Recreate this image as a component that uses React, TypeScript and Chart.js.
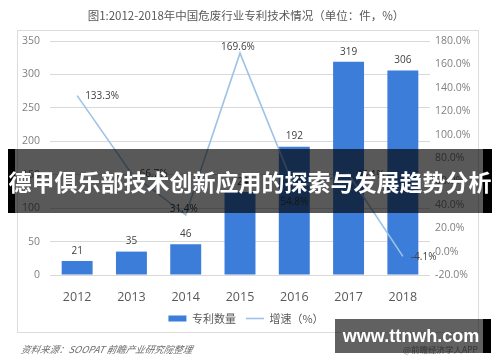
import React, { useEffect, useRef } from "react";
import { Chart, registerables } from "chart.js";

Chart.register(...registerables);

const years = ["2012", "2013", "2014", "2015", "2016", "2017", "2018"];
const patentCounts = [21, 35, 46, 124, 192, 319, 306];
const growthRates = [133.3, 66.7, 31.4, 169.6, 54.8, 66.1, -4.1];
const growthLabelPos = ["right", "right", "above", "above", "below", "right", "right"];
const leftAxis = { min: 0, max: 350, step: 50 };
const rightAxis = { min: -20, max: 180, step: 20 };

const titleText = "图1:2012-2018年中国危废行业专利技术情况（单位：件，%）";
const barLabel = "专利数量";
const lineLabel = "增速（%）";
const sourceText = "资料来源：SOOPAT 前瞻产业研究院整理";
const bannerText = "德甲俱乐部技术创新应用的探索与发展趋势分析";
const watermarkText = "www.ttnwh.com";
const appText = "@前瞻经济学人APP";

const BAR_COLOR = "#3b7dd8";
const LINE_COLOR = "#9dc3e6";
const FONT = '"Open Sans", "Noto Sans CJK SC", sans-serif';
const CJK = '"Noto Sans CJK SC", "Open Sans", sans-serif';

const framePlugin = {
  id: "frame",
  beforeDraw(chart: any) {
    const ctx = chart.ctx;
    ctx.save();
    ctx.fillStyle = "#ffffff";
    ctx.fillRect(0, 0, chart.width, chart.height);
    ctx.strokeStyle = "#dcdcdc";
    ctx.lineWidth = 1;
    ctx.strokeRect(17.5, 30.5, 461, 302);
    ctx.restore();
  },
};

const labelPlugin = {
  id: "valueLabels",
  afterDatasetsDraw(chart: any) {
    const ctx = chart.ctx;
    ctx.save();
    ctx.font = "10px " + FONT;
    ctx.fillStyle = "#404040";
    const barMeta = chart.getDatasetMeta(0);
    barMeta.data.forEach((el: any, i: number) => {
      ctx.textAlign = "center";
      ctx.textBaseline = "middle";
      ctx.fillText(String(patentCounts[i]), el.x, el.y - 10);
    });
    const lineMeta = chart.getDatasetMeta(1);
    lineMeta.data.forEach((el: any, i: number) => {
      const txt = growthRates[i].toFixed(1) + "%";
      const pos = growthLabelPos[i];
      ctx.textBaseline = "middle";
      if (pos === "right") {
        ctx.textAlign = "left";
        ctx.fillText(txt, el.x + 8, el.y + 1);
      } else if (pos === "above") {
        ctx.textAlign = "center";
        ctx.fillText(txt, el.x - 2, el.y - 6);
      } else {
        ctx.textAlign = "center";
        ctx.fillText(txt, el.x, el.y + 15);
      }
    });
    ctx.restore();
  },
};

export default function App() {
  const ref = useRef<HTMLCanvasElement>(null);

  useEffect(() => {
    document.body.style.margin = "0";
    const canvas = ref.current;
    if (!canvas) return;
    const chart = new Chart(canvas, {
      type: "bar",
      data: {
        labels: years,
        datasets: [
          {
            type: "bar",
            label: barLabel,
            data: patentCounts,
            backgroundColor: BAR_COLOR,
            yAxisID: "y",
            order: 2,
            barPercentage: 0.57,
            categoryPercentage: 1,
          },
          {
            type: "line",
            label: lineLabel,
            data: growthRates,
            borderColor: LINE_COLOR,
            backgroundColor: LINE_COLOR,
            borderWidth: 1.6,
            pointRadius: 0,
            tension: 0,
            yAxisID: "y1",
            order: 1,
          },
        ],
      } as any,
      options: {
        responsive: false,
        animation: false,
        devicePixelRatio: 1,
        layout: { padding: { top: 41, bottom: 28, left: 0, right: 8 } },
        plugins: {
          title: { display: false },
          tooltip: { enabled: false },
          legend: {
            display: true,
            position: "bottom",
            labels: {
              usePointStyle: true,
              pointStyleWidth: 18,
              boxHeight: 6,
              padding: 10,
              color: "#595959",
              font: { size: 11, family: CJK },
              generateLabels: () => [
                {
                  text: barLabel,
                  fillStyle: BAR_COLOR,
                  strokeStyle: BAR_COLOR,
                  lineWidth: 0,
                  pointStyle: "rect",
                  hidden: false,
                  datasetIndex: 0,
                  fontColor: "#595959",
                } as any,
                {
                  text: lineLabel,
                  fillStyle: LINE_COLOR,
                  strokeStyle: LINE_COLOR,
                  lineWidth: 1.6,
                  pointStyle: "line",
                  hidden: false,
                  datasetIndex: 1,
                  fontColor: "#595959",
                } as any,
              ],
            },
          },
        },
        scales: {
          x: {
            grid: { display: false },
            border: { display: false },
            ticks: { color: "#595959", font: { size: 12.5, family: FONT }, padding: 7 },
            afterFit: (s: any) => {
              s.height = 28;
            },
          },
          y: {
            position: "left",
            min: leftAxis.min,
            max: leftAxis.max,
            grid: { color: "#d9d9d9", drawTicks: false },
            border: { display: false },
            ticks: {
              stepSize: leftAxis.step,
              color: "#808080",
              font: { size: 10.5, family: FONT },
              padding: 10,
            },
            afterFit: (s: any) => {
              s.width = 50;
            },
          },
          y1: {
            position: "right",
            min: rightAxis.min,
            max: rightAxis.max,
            grid: { display: false, drawTicks: false },
            border: { display: false },
            ticks: {
              stepSize: rightAxis.step,
              color: "#808080",
              font: { size: 10.5, family: FONT },
              padding: 5,
              callback: (v: any) => Number(v).toFixed(1) + "%",
            },
            afterFit: (s: any) => {
              s.width = 62;
            },
          },
        },
      } as any,
      plugins: [framePlugin, labelPlugin],
    });
    return () => chart.destroy();
  }, []);

  return (
    <div style={{ position: "fixed", left: 0, top: 0, width: 500, height: 362, overflow: "hidden", background: "#fff" }}>
      <canvas ref={ref} width={500} height={362} style={{ position: "absolute", left: 0, top: 0, width: 500, height: 362 }} />
      <div
        style={{
          position: "absolute",
          left: 0,
          top: 7,
          width: 492,
          textAlign: "center",
          fontFamily: CJK,
          fontSize: 11.5,
          lineHeight: "16px",
          color: "#595959",
          whiteSpace: "nowrap",
        }}
      >
        {titleText}
      </div>
      <div
        style={{
          position: "absolute",
          left: 20,
          top: 343,
          fontFamily: CJK,
          fontSize: 9.5,
          fontStyle: "italic",
          lineHeight: "12px",
          color: "#6e6e6e",
          whiteSpace: "nowrap",
          transform: "skewX(-12deg)",
          transformOrigin: "left bottom",
        }}
      >
        {sourceText}
      </div>
      <div
        style={{
          position: "absolute",
          left: 403,
          top: 344,
          fontFamily: CJK,
          fontSize: 8.5,
          lineHeight: "11px",
          color: "#8a8a8a",
          whiteSpace: "nowrap",
        }}
      >
        {appText}
      </div>
      {/* banner */}
      <div style={{ position: "absolute", left: 8, top: 149, width: 7, height: 64, background: "#000" }} />
      <div style={{ position: "absolute", left: 15, top: 149, width: 468, height: 64, background: "rgba(0,0,0,0.65)" }} />
      <div style={{ position: "absolute", left: 483, top: 149, width: 9, height: 64, background: "#000" }} />
      <div
        style={{
          position: "absolute",
          left: 0,
          top: 149,
          width: 500,
          height: 64,
          lineHeight: "64px",
          textAlign: "center",
          color: "#ffffff",
          fontFamily: CJK,
          fontWeight: 700,
          fontSize: 23,
          whiteSpace: "nowrap",
        }}
      >
        {bannerText}
      </div>
      {/* watermark */}
      <div style={{ position: "absolute", left: 335, top: 319, width: 148, height: 34, background: "rgba(0,0,0,0.62)" }} />
      <div style={{ position: "absolute", left: 483, top: 319, width: 8, height: 34, background: "#000" }} />
      <div
        style={{
          position: "absolute",
          left: 335,
          top: 319,
          width: 152,
          height: 34,
          lineHeight: "34px",
          textAlign: "center",
          color: "#ffffff",
          fontFamily: '"Liberation Sans", Arial, sans-serif',
          fontWeight: 700,
          fontSize: 18,
          whiteSpace: "nowrap",
        }}
      >
        {watermarkText}
      </div>
    </div>
  );
}
